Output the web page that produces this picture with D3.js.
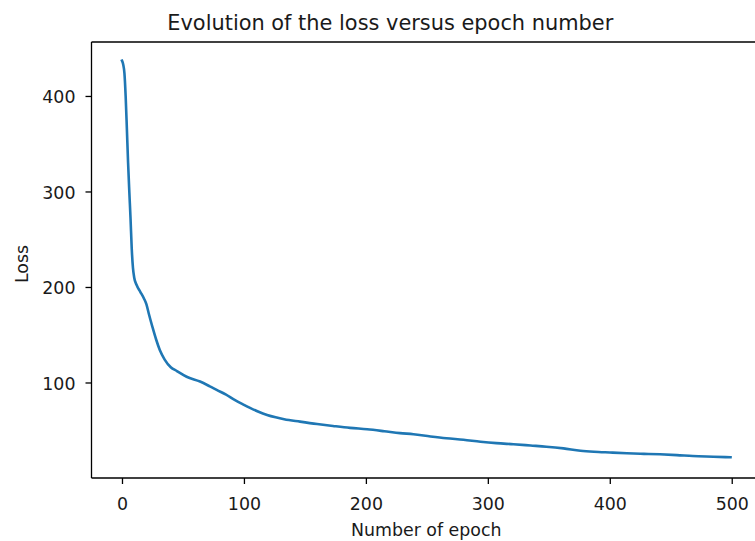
<!DOCTYPE html>
<html>
<head>
<meta charset="utf-8">
<script src="https://cdn.jsdelivr.net/npm/d3@7"></script>
<style>
  html, body { margin: 0; padding: 0; background: #fff; overflow: hidden; }
  svg { display: block; }
  text { font-family: "DejaVu Sans", sans-serif; fill: #1a1a1a; }
</style>
</head>
<body>
<svg id="chart" width="755" height="541"></svg>
<script>
// ---- data ----
const epochs = [0, 1, 2, 3, 4, 5, 6, 7, 8, 9, 10, 12, 15, 18, 20, 22, 25, 28, 31, 35, 40, 45, 53, 64, 72, 78, 85, 92, 100, 105, 112, 119, 126, 133, 146, 160, 173, 187, 201, 215, 228, 239, 253, 266, 280, 294, 307, 321, 335, 348, 362, 376, 387, 400, 414, 428, 441, 455, 468, 485, 499];
const lossValues = [437, 433, 424, 400, 366, 330, 300, 272, 240, 220, 210, 202, 195, 188, 182, 172, 158, 145, 134, 124, 116, 112, 106, 101, 96, 92, 87.5, 82, 76.6, 73.4, 69.3, 66, 63.5, 61.5, 59, 56.5, 54.5, 52.5, 51, 49, 47, 45.8, 43.5, 41.6, 40, 38, 36.5, 35.3, 34, 32.8, 31, 28.6, 27.5, 26.7, 25.9, 25.3, 24.8, 24, 23, 22.3, 21.7];
const xTicks = [0, 100, 200, 300, 400, 500];
const yTicks = [100, 200, 300, 400];
const titleText = "Evolution of the loss versus epoch number";
const xLabelText = "Number of epoch";
const yLabelText = "Loss";

// ---- layout ----
const axLeft = 91.5, axRight = 761, axTop = 42, axBottom = 478;
const fontTick = 17.4, fontTitle = 20.9;

const svg = d3.select("#chart");
svg.append("rect").attr("width", 755).attr("height", 541).attr("fill", "#fff");

const x = d3.scaleLinear().domain([-25, 524]).range([axLeft, axRight]);
const y = d3.scaleLinear().domain([0, 456.5]).range([axBottom, axTop]);

const data = epochs.map((e, i) => ({ e, v: lossValues[i] }));

// line
const line = d3.line().x(d => x(d.e)).y(d => y(d.v)).curve(d3.curveMonotoneX);
svg.append("path")
  .datum(data)
  .attr("d", line)
  .attr("fill", "none")
  .attr("stroke", "#1f77b4")
  .attr("stroke-width", 2.6)
  .attr("stroke-linejoin", "round")
  .attr("stroke-linecap", "square");

// x axis
const xAxis = d3.axisBottom(x).tickValues(xTicks).tickSize(6).tickPadding(9).tickSizeOuter(0);
const gx = svg.append("g").attr("transform", `translate(0,${axBottom})`).call(xAxis);
gx.select(".domain").remove();
gx.selectAll(".tick line").attr("stroke", "#000").attr("stroke-width", 1.3);
gx.selectAll(".tick text").attr("font-size", fontTick).attr("font-family", "DejaVu Sans").attr("fill", "#1a1a1a")
  .attr("dy", null).attr("y", 0).attr("transform", "translate(0,32)");

// y axis
const yAxis = d3.axisLeft(y).tickValues(yTicks).tickSize(6).tickPadding(9).tickSizeOuter(0);
const gy = svg.append("g").attr("transform", `translate(${axLeft},0)`).call(yAxis);
gy.select(".domain").remove();
gy.selectAll(".tick line").attr("stroke", "#000").attr("stroke-width", 1.3);
gy.selectAll(".tick text").attr("font-size", fontTick).attr("font-family", "DejaVu Sans").attr("fill", "#1a1a1a")
  .attr("dy", null).attr("y", 0).attr("x", -16).attr("transform", "translate(0,7)");

// spines
const spine = svg.append("g").attr("stroke", "#000").attr("stroke-width", 1.3).attr("fill", "none");
spine.append("line").attr("x1", axLeft).attr("x2", axLeft).attr("y1", axTop).attr("y2", axBottom);
spine.append("line").attr("x1", axLeft).attr("x2", axRight).attr("y1", axTop).attr("y2", axTop);
spine.append("line").attr("x1", axLeft).attr("x2", axRight).attr("y1", axBottom).attr("y2", axBottom);
spine.append("line").attr("x1", axRight).attr("x2", axRight).attr("y1", axTop).attr("y2", axBottom);

// title
svg.append("text").attr("x", 390.3).attr("y", 30).attr("text-anchor", "middle")
  .attr("font-size", fontTitle).text(titleText);

// x label
svg.append("text").attr("x", (axLeft + axRight) / 2).attr("y", 535.5).attr("text-anchor", "middle")
  .attr("font-size", fontTick).text(xLabelText);

// y label
svg.append("text").attr("transform", "translate(28,264) rotate(-90)").attr("text-anchor", "middle")
  .attr("font-size", fontTick).text(yLabelText);
</script>
</body>
</html>
